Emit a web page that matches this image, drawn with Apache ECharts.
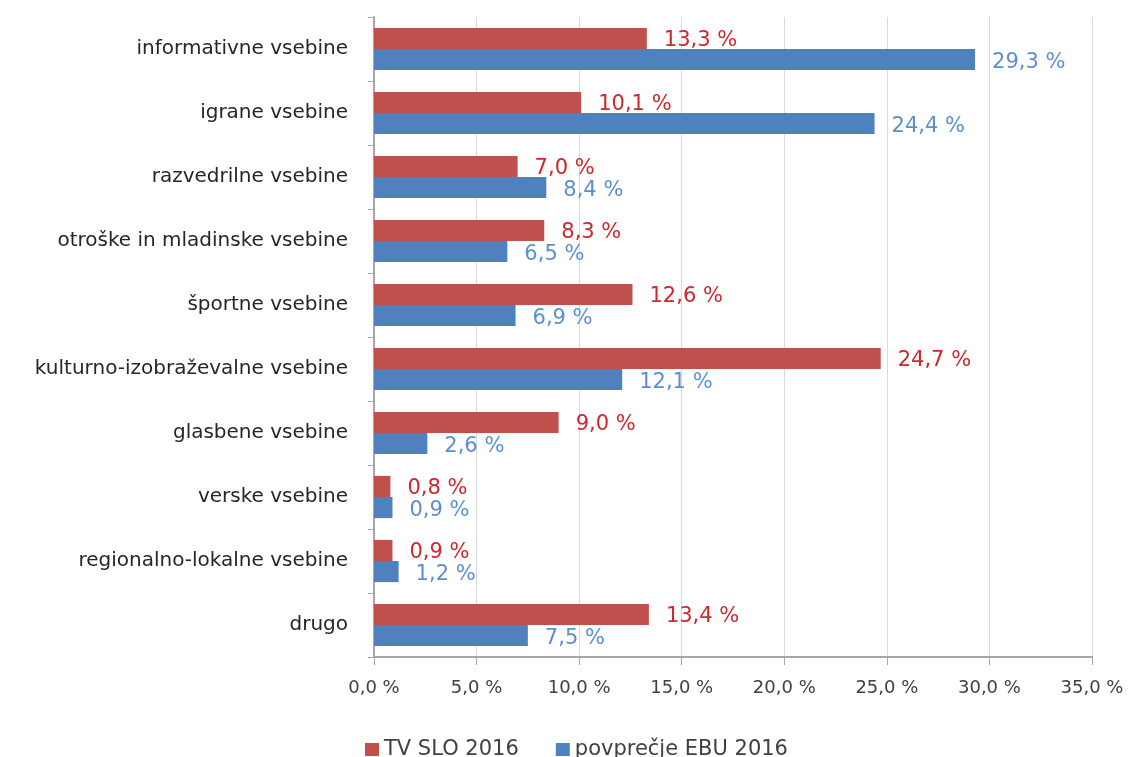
<!DOCTYPE html>
<html><head><meta charset="utf-8">
<script src="https://cdn.jsdelivr.net/npm/echarts@6/dist/echarts.min.js"></script>
<style>html,body{margin:0;padding:0;background:#fff}#c{width:1132px;height:757px}</style>
</head><body><div id="c"></div>
<script>
const categories = ["informativne vsebine","igrane vsebine","razvedrilne vsebine","otroške in mladinske vsebine","športne vsebine","kulturno-izobraževalne vsebine","glasbene vsebine","verske vsebine","regionalno-lokalne vsebine","drugo"];
const tvSlo = [13.3,10.1,7.0,8.3,12.6,24.7,9.0,0.8,0.9,13.4];
const ebu = [29.3,24.4,8.4,6.5,6.9,12.1,2.6,0.9,1.2,7.5];
const seriesNames = ["TV SLO 2016","povprečje EBU 2016"];
const fmt = v => v.toFixed(1).replace('.', ',') + ' %';
const font = '"DejaVu Sans", sans-serif';
const chart = echarts.init(document.getElementById('c'));
chart.setOption({
  animation:false,
  textStyle:{fontFamily:font},
  grid:{left:374,right:40,top:17,bottom:100},
  legend:{top:734,left:360,itemWidth:14,itemHeight:13,itemGap:37,icon:'rect',
    textStyle:{fontSize:21,color:'#404040',fontFamily:font},data:seriesNames},
  xAxis:{type:'value',min:0,max:35,interval:5,
    axisLine:{show:true,lineStyle:{color:'#a6a6a6',width:2}},
    axisTick:{show:true,length:8,lineStyle:{color:'#a6a6a6'}},
    splitLine:{show:true,lineStyle:{color:'#d9d9d9'}},
    axisLabel:{formatter:v=>fmt(v),fontSize:18,color:'#404040',margin:22,fontFamily:font}},
  yAxis:{type:'category',data:categories,inverse:true,
    axisLine:{show:true,lineStyle:{color:'#a6a6a6',width:2}},
    axisTick:{show:true,length:6,lineStyle:{color:'#a6a6a6'}},
    axisLabel:{fontSize:20,color:'#262626',margin:26,fontFamily:font}},
  series:[
    {name:seriesNames[0],type:'bar',data:tvSlo,barGap:'0%',barCategoryGap:'34%',
     itemStyle:{color:'#C0504D'},
     label:{show:true,position:'right',distance:17,formatter:p=>fmt(p.value),color:'#D0262C',fontSize:21,fontFamily:font,offset:[0,2]}},
    {name:seriesNames[1],type:'bar',data:ebu,barGap:'0%',barCategoryGap:'34%',
     itemStyle:{color:'#4F81BD'},
     label:{show:true,position:'right',distance:17,formatter:p=>fmt(p.value),color:'#5B8FD0',fontSize:21,fontFamily:font,offset:[0,3]}}
  ]
});
</script></body></html>
